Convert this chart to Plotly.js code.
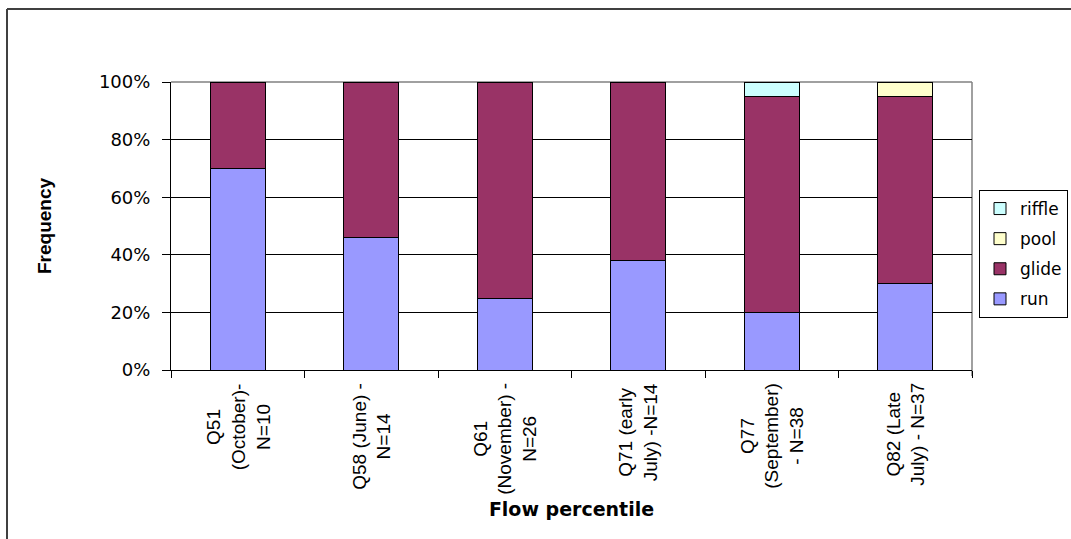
<!DOCTYPE html>
<html>
<head>
<meta charset="utf-8">
<script src="https://cdn.plot.ly/plotly-3.0.1.min.js"></script>
<style>
html,body{margin:0;padding:0;background:#fff;overflow:hidden;}
#chart{width:1071px;height:539px;}
</style>
</head>
<body>
<div id="chart"></div>
<script>
var categories = ["Q51", "Q58", "Q61", "Q71", "Q77", "Q82"];
var tickLabels = [
  "Q51<br>(October)-<br>N=10",
  "Q58 (June) -<br>N=14",
  "Q61<br>(November) -<br>N=26",
  "Q71 (early<br>July) -N=14",
  "Q77<br>(September)<br>- N=38",
  "Q82 (Late<br>July) - N=37"
];
var runVals    = [0.70, 0.46, 0.25, 0.38, 0.20, 0.30];
var glideVals  = [0.30, 0.54, 0.75, 0.62, 0.75, 0.65];
var poolVals   = [0, 0, 0, 0, 0, 0.05];
var riffleVals = [0, 0, 0, 0, 0.05, 0];
var yTickVals  = [0, 0.2, 0.4, 0.6, 0.8, 1.0];
var yTickText  = ["0%", "20%", "40%", "60%", "80%", "100%"];

var seriesNames  = ["run", "glide", "pool", "riffle"];
var seriesValues = [runVals, glideVals, poolVals, riffleVals];
var seriesColors = ["#9999FF", "#993366", "#FFFFCC", "#CCFFFF"];

var traces = seriesNames.map(function(name, i){
  return {
    type: "bar",
    name: name,
    legendgroup: "g" + i,
    legendrank: 10 - i,
    x: categories,
    y: seriesValues[i],
    width: 0.41,
    marker: {color: seriesColors[i], line: {color: "#000000", width: 1}},
    hoverinfo: "name+y"
  };
});

// pixel helpers for paper coordinates
var W = 1071, H = 539;
var L = 171, R = 972, T = 82, B = 370;
function px(x){ return (x - L) / (R - L); }
function py(y){ return (B - y) / (B - T); }

var tickAnnotations = categories.map(function(c, i){
  return {
    xref: "x", yref: "paper",
    x: c, y: py(381),
    xanchor: "center", yanchor: "top",
    text: tickLabels[i],
    textangle: -90,
    align: "center",
    showarrow: false,
    font: {family: "Liberation Sans, Arial, sans-serif", size: 19, color: "#000"}
  };
});

var layout = {
  width: W,
  height: H,
  margin: {l: L, r: W - R, t: T, b: H - B},
  paper_bgcolor: "#ffffff",
  plot_bgcolor: "#ffffff",
  barmode: "stack",
  showlegend: true,
  legend: {
    xref: "container", yref: "container",
    x: 979 / W, y: 1 - 190 / H, xanchor: "left", yanchor: "top",
    bordercolor: "#000000", borderwidth: 1,
    traceorder: "grouped",
    tracegroupgap: 5,
    font: {family: "DejaVu Sans, Arial, sans-serif", size: 17, color: "#000"},
    itemwidth: 30
  },
  xaxis: {
    type: "category",
    tickson: "boundaries",
    ticks: "outside",
    ticklen: 7,
    tickcolor: "#000",
    showline: true,
    linecolor: "#000",
    linewidth: 1,
    showgrid: false,
    showticklabels: false,
    title: {text: "Flow percentile", standoff: 132,
            font: {family: "DejaVu Sans, Arial, sans-serif", size: 19, color: "#000", weight: "bold"}},
    fixedrange: true
  },
  yaxis: {
    range: [0, 1],
    tickvals: yTickVals,
    ticktext: yTickText,
    ticks: "outside",
    ticklen: 8,
    tickcolor: "#000",
    ticklabelstandoff: 8,
    showline: true,
    linecolor: "#000",
    linewidth: 1,
    showgrid: true,
    gridcolor: "#000000",
    gridwidth: 1,
    zeroline: false,
    tickfont: {family: "DejaVu Sans, Arial, sans-serif", size: 18, color: "#000"},
    title: {text: "Frequency", standoff: 42,
            font: {family: "Liberation Sans, Arial, sans-serif", size: 19, color: "#000", weight: "bold"}},
    fixedrange: true
  },
  annotations: tickAnnotations,
  shapes: [
    {type: "line", xref: "paper", yref: "paper", x0: 0, x1: 1, y0: 1, y1: 1,
     line: {color: "#808080", width: 1.5}, layer: "below"},
    {type: "line", xref: "paper", yref: "paper", x0: 1, x1: 1, y0: py(376), y1: 1,
     line: {color: "#808080", width: 1.5}, layer: "below"},
    {type: "line", xref: "paper", yref: "paper", x0: px(7), x1: px(7), y0: py(560), y1: py(9),
     line: {color: "#404040", width: 2}, layer: "above"},
    {type: "line", xref: "paper", yref: "paper", x0: px(7), x1: px(1090), y0: py(9), y1: py(9),
     line: {color: "#404040", width: 2}, layer: "above"}
  ]
};

Plotly.newPlot("chart", traces, layout, {displayModeBar: false, staticPlot: true});
</script>
</body>
</html>
